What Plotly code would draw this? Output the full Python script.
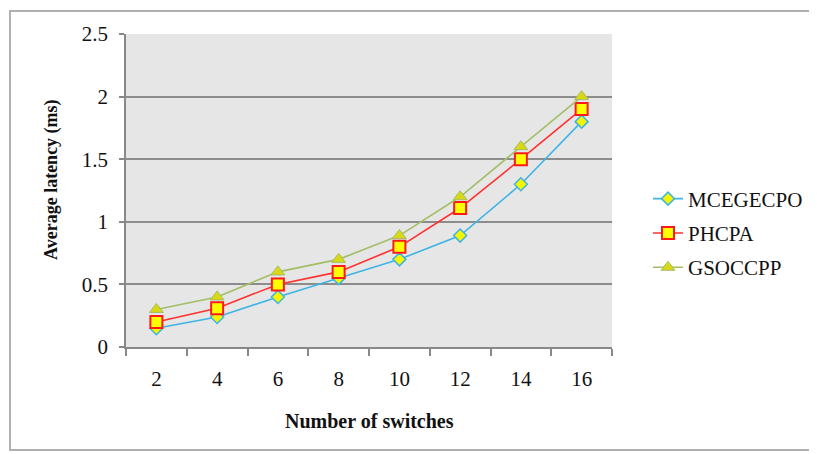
import plotly.graph_objects as go

switches = ["2", "4", "6", "8", "10", "12", "14", "16"]
mcegecpo = [0.15, 0.24, 0.40, 0.55, 0.70, 0.89, 1.30, 1.80]
phcpa = [0.20, 0.31, 0.50, 0.60, 0.80, 1.11, 1.50, 1.90]
gsoccpp = [0.30, 0.40, 0.60, 0.70, 0.89, 1.20, 1.60, 2.00]
y_ticks = [0, 0.5, 1, 1.5, 2, 2.5]
y_tick_text = ["0", "0.5", "1", "1.5", "2", "2.5"]

# page body margin offset (browser default 8px)
O = 8
W, H = 817 - O, 454 - O
L, R, T, B = 126 - O, 205, 34 - O, 107
pw, ph = W - L - R, H - T - B

def px_x(p):  # p in screen px
    return (p - O - L) / pw

def px_y(p):
    return (H - B - (p - O)) / ph

fig = go.Figure()
fig.add_trace(go.Scatter(
    x=switches, y=mcegecpo, name="MCEGECPO", mode="lines+markers", legendgroup="a",
    line=dict(color="#3fb4e4", width=1.6),
    marker=dict(symbol="diamond", size=10, color="#f5f500", line=dict(color="#3fb4e4", width=1.5))))
fig.add_trace(go.Scatter(
    x=switches, y=phcpa, name="PHCPA", mode="lines+markers", legendgroup="b",
    line=dict(color="#ff3030", width=1.6),
    marker=dict(symbol="square", size=12, color="#ffff00", line=dict(color="#ff1a1a", width=2))))
fig.add_trace(go.Scatter(
    x=switches, y=gsoccpp, name="GSOCCPP", mode="lines+markers", legendgroup="c",
    line=dict(color="#a3be66", width=1.6),
    marker=dict(symbol="triangle-up", size=12, color="#d8d815", line=dict(color="#a3be66", width=1))))

font_family = "Times New Roman"

fig.update_layout(
    width=W, height=H,
    margin=dict(l=L, r=R, t=T, b=B, autoexpand=False),
    paper_bgcolor="white",
    plot_bgcolor="#e6e6e6",
    font=dict(family=font_family, size=21, color="#111"),
    showlegend=True,
    legend=dict(x=px_x(648), y=px_y(233), xanchor="left", yanchor="middle",
                font=dict(family=font_family, size=21, color="#111"),
                tracegroupgap=4, bgcolor="rgba(0,0,0,0)"),
    xaxis=dict(type="category", tickson="boundaries", ticks="outside", ticklen=7,
               tickcolor="#888", tickwidth=1.5, showgrid=False, showline=True,
               linecolor="#888", linewidth=1.5, ticklabelstandoff=12,
               tickfont=dict(family=font_family, size=21, color="#111"),
               range=[-0.5, 7.5]),
    yaxis=dict(range=[0, 2.5], tickmode="array", tickvals=y_ticks, ticktext=y_tick_text,
               ticks="outside", ticklen=5, tickcolor="#888", tickwidth=1.5,
               showgrid=True, gridcolor="#8c8c8c", gridwidth=1.8,
               showline=True, linecolor="#888", linewidth=1.5, zeroline=False,
               ticklabelstandoff=7,
               tickfont=dict(family=font_family, size=21, color="#111")),
    annotations=[
        dict(text="<b>Number of switches</b>", xref="paper", yref="paper",
             x=px_x(369), y=px_y(421), xanchor="center", yanchor="middle", showarrow=False,
             font=dict(family=font_family, size=20, color="#111")),
        dict(text="<b>Average latency (ms)</b>", xref="paper", yref="paper",
             x=px_x(52), y=px_y(180), xanchor="center", yanchor="middle", showarrow=False,
             textangle=-90, font=dict(family=font_family, size=18, color="#111")),
    ],
    shapes=[
        dict(type="rect", xref="paper", yref="paper",
             x0=px_x(10), x1=px_x(830), y0=px_y(450), y1=px_y(11),
             line=dict(color="#b0b0b0", width=2), fillcolor="rgba(0,0,0,0)", layer="below"),
    ],
)

fig.write_html("out.html")
